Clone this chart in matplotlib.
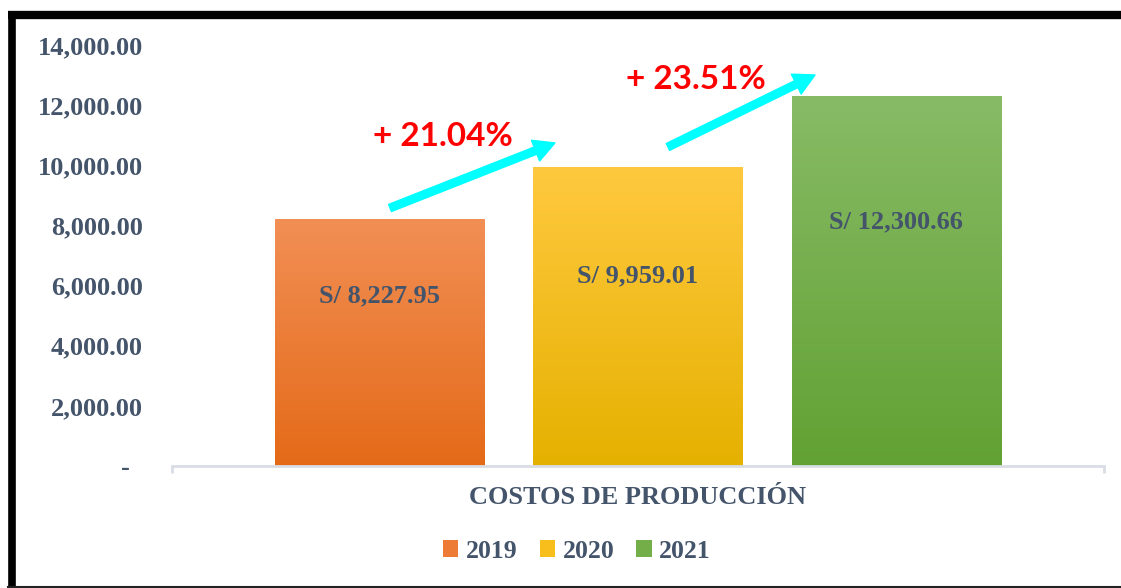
import matplotlib.pyplot as plt
import numpy as np
from matplotlib.colors import LinearSegmentedColormap
from matplotlib.lines import Line2D
from matplotlib.patches import Patch

# data
years = ['2019', '2020', '2021']
costs = [8227.95, 9959.01, 12300.66]
category = 'COSTOS DE PRODUCCIÓN'
yticks = [0, 2000, 4000, 6000, 8000, 10000, 12000, 14000]

# gradient colours (top, bottom) per bar
grad_top = ['#F28F55', '#FFC93F', '#88BB66']
grad_bot = ['#E46A18', '#E5B100', '#62A133']
legend_cols = ['#EE7B35', '#F8BE1C', '#73AE49']

txt_col = '#44546A'
serif = ['Liberation Serif', 'DejaVu Serif']

fig = plt.figure(figsize=(11.21, 5.88), dpi=100)
ax = fig.add_axes([172 / 1121, 1 - 466 / 588, (1104 - 172) / 1121, (466 - 45) / 588])

xpos = np.array([-1, 0, 1])
width = 0.81
bars = ax.bar(xpos, costs, width=width, color='none', edgecolor='none', zorder=2)
for i, b in enumerate(bars):
    cmap = LinearSegmentedColormap.from_list('g%d' % i, [grad_bot[i], grad_top[i]])
    grad = np.linspace(0, 1, 256).reshape(-1, 1)
    im = ax.imshow(grad, cmap=cmap, origin='lower', aspect='auto', zorder=2,
                   extent=[b.get_x(), b.get_x() + b.get_width(), 0, b.get_height()])
    im.set_clip_path(b)

# value labels inside the bars
label_y = [5650, 6320, 8110]
for x, v, ly in zip(xpos, costs, label_y):
    ax.text(x, ly, f'S/ {v:,.2f}', ha='center', va='center', color=txt_col,
            fontsize=19, fontweight='bold', family=serif, zorder=3)

# growth arrows and percentages
arrows = [((-0.961, 8580), (-0.322, 10742)), ((0.116, 10609), (0.686, 13003))]
pct_pos = [(-0.757, 10950), (0.225, 12860)]
for i in range(2):
    growth = (costs[i + 1] / costs[i] - 1) * 100
    (x0, y0), (x1, y1) = arrows[i]
    ax.annotate('', xy=(x1, y1), xytext=(x0, y0),
                arrowprops=dict(arrowstyle='simple,head_length=1.5,head_width=1.6,tail_width=0.55',
                                color='#00FFFF', mutation_scale=10, shrinkA=0, shrinkB=0), zorder=4)
    ax.text(pct_pos[i][0], pct_pos[i][1], f'+ {growth:.2f}%', ha='center', va='center',
            color='#FF0000', fontsize=24, fontweight='bold', family=['Lato', 'DejaVu Sans'], zorder=4)

ax.set_xlim(-1.806, 1.806)
ax.set_ylim(0, 14000)
ax.set_yticks(yticks)
ax.set_yticklabels(['-  '] + [f'{t:,.2f}' for t in yticks[1:]])
for lbl in ax.get_yticklabels():
    lbl.set_family(serif)
    lbl.set_fontweight('bold')
    lbl.set_fontsize(19)
    lbl.set_color(txt_col)
ax.tick_params(axis='y', length=0, pad=21)
ax.set_xticks([-1.806, 1.806])
ax.set_xticklabels([])
ax.tick_params(axis='x', length=5, width=2, color='#D9DDE5', direction='out')
for s in ['top', 'right', 'left']:
    ax.spines[s].set_visible(False)
ax.spines['bottom'].set_color('#D9DDE5')
ax.spines['bottom'].set_linewidth(2)

ax.text(0, -31 / 421, category, transform=ax.get_xaxis_transform(), ha='center', va='center',
        color=txt_col, fontsize=19, fontweight='bold', family=serif)

handles = [Patch(facecolor=c, edgecolor='none') for c in legend_cols]
leg = fig.legend(handles, years, loc='center', bbox_to_anchor=(577 / 1121, 1 - 551 / 588),
                 ncol=3, frameon=False, handlelength=0.6, handleheight=0.6, handletextpad=0.3,
                 columnspacing=0.85, prop={'family': serif, 'weight': 'bold', 'size': 18.5})
for t in leg.get_texts():
    t.set_color(txt_col)

# black frame (left, top, bottom)
fig.add_artist(Line2D([11.5 / 1121, 11.5 / 1121], [1 - 15 / 588, 0], color='black', lw=5.5,
                      transform=fig.transFigure, solid_capstyle='butt'))
fig.add_artist(Line2D([8 / 1121, 1], [1 - 15 / 588, 1 - 15 / 588], color='black', lw=6,
                      transform=fig.transFigure, solid_capstyle='butt'))
fig.add_artist(Line2D([8 / 1121, 1], [0.6 / 588, 0.6 / 588], color='#222222', lw=1.5,
                      transform=fig.transFigure))

fig.savefig('out.png', dpi=100, facecolor='white')
